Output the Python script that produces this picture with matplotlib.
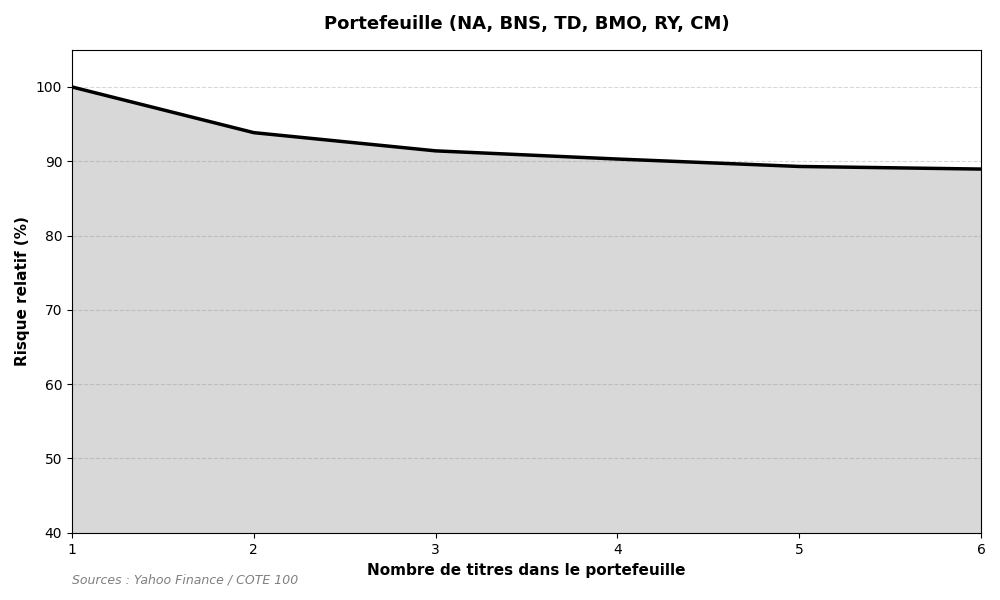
import matplotlib
matplotlib.use("Agg")
import matplotlib.pyplot as plt

nb_titres = [1, 2, 3, 4, 5, 6]
risque_relatif = [100.0, 93.85, 91.4, 90.3, 89.3, 88.95]

fig, ax = plt.subplots(figsize=(10, 6), dpi=100)
fig.subplots_adjust(left=0.072, right=0.981, top=0.917, bottom=0.112)

ax.fill_between(nb_titres, risque_relatif, 40, color="#d8d8d8", zorder=1)
ax.plot(nb_titres, risque_relatif, color="black", linewidth=2.5, zorder=3)

ax.set_xlim(1, 6)
ax.set_ylim(40, 105)
ax.set_xticks(nb_titres)
ax.set_yticks([40, 50, 60, 70, 80, 90, 100])
ax.grid(axis="y", linestyle="--", color="gray", linewidth=0.8, alpha=0.3, zorder=2)
ax.set_axisbelow(False)

ax.set_title("Portefeuille (NA, BNS, TD, BMO, RY, CM)", fontsize=13, fontweight="bold", pad=15)
ax.set_xlabel("Nombre de titres dans le portefeuille", fontsize=11, fontweight="bold", labelpad=5)
ax.set_ylabel("Risque relatif (%)", fontsize=11, fontweight="bold")

fig.text(0.072, 0.028, "Sources : Yahoo Finance / COTE 100", fontsize=9,
         style="italic", color="gray")

fig.savefig("out.png", dpi=100)
